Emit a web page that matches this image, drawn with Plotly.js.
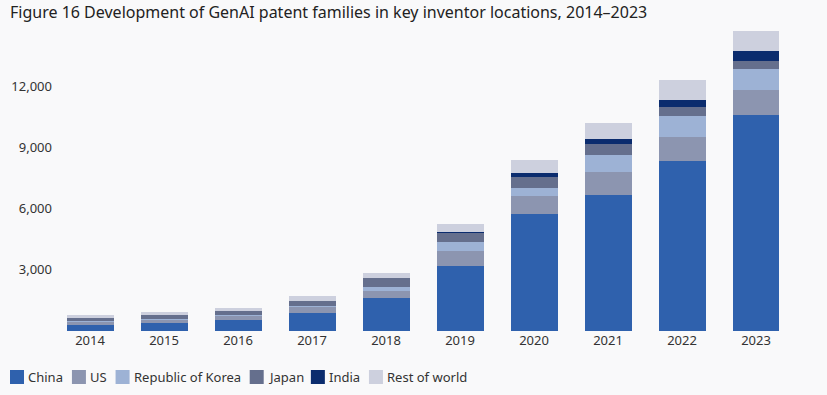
<!DOCTYPE html>
<html>
<head>
<meta charset="utf-8">
<script src="https://cdn.plot.ly/plotly-3.0.1.min.js"></script>
<style>
  html, body { margin: 0; padding: 0; background: #f9f9fa; }
  #chart { width: 827px; height: 395px; }
</style>
</head>
<body>
<div id="chart"></div>
<script>
const years = ['2014','2015','2016','2017','2018','2019','2020','2021','2022','2023'];
const china = [290, 390, 525, 885, 1620, 3200, 5740, 6680, 8350, 10610];
const us = [150, 130, 195, 280, 330, 740, 885, 1150, 1165, 1230];
const korea = [60, 70, 50, 60, 210, 410, 410, 820, 1050, 1035];
const japan = [140, 195, 195, 245, 430, 440, 540, 540, 430, 395];
const india = [5, 5, 5, 15, 30, 50, 165, 230, 360, 490];
const restOfWorld = [150, 150, 150, 245, 245, 440, 655, 820, 985, 985];
const seriesNames = ['China', 'US', 'Republic of Korea', 'Japan', 'India', 'Rest of world'];
const seriesColors = ['#2f61ad', '#8c95b0', '#9db2d5', '#656f8d', '#0b2c6e', '#cdd0de'];
const yTickVals = [3000, 6000, 9000, 12000];
const yTickText = ['3,000', '6,000', '9,000', '12,000'];

const seriesValues = [china, us, korea, japan, india, restOfWorld];
const traces = seriesValues.map((vals, i) => ({
  type: 'bar',
  x: years,
  y: vals,
  name: seriesNames[i],
  marker: { color: seriesColors[i], line: { width: 0 } },
  showlegend: false,
  hoverinfo: 'x+y+name'
}));

const W = 827, H = 395;
const M = { l: 53, r: 34, t: 26, b: 64 };
const plotW = W - M.l - M.r, plotH = H - M.t - M.b;
const bottomPx = H - M.b;

// custom legend (square + label), laid out left to right
const font = "13px 'Noto Sans'";
const ctx = document.createElement('canvas').getContext('2d');
ctx.font = font;
const shapes = [], annotations = [];
let px = 10;
const legendCy = 377, sq = 14;
const toPX = p => (p - M.l) / plotW;
const toPY = p => (bottomPx - p) / plotH;
seriesNames.forEach((name, i) => {
  shapes.push({
    type: 'rect', xref: 'paper', yref: 'paper',
    x0: toPX(px), x1: toPX(px + sq),
    y0: toPY(legendCy - sq / 2), y1: toPY(legendCy + sq / 2),
    fillcolor: seriesColors[i], line: { width: 0 }
  });
  const tx = px + sq + 3;
  annotations.push({
    xref: 'paper', yref: 'paper', x: toPX(tx - 1), y: toPY(legendCy),
    xanchor: 'left', yanchor: 'middle', showarrow: false,
    text: name, font: { family: 'Noto Sans', size: 13, color: '#333333' }
  });
  px = tx + ctx.measureText(name).width + 10;
});

const layout = {
  width: W, height: H,
  margin: M,
  paper_bgcolor: '#f9f9fa',
  plot_bgcolor: '#f9f9fa',
  barmode: 'stack',
  bargap: 0.365,
  font: { family: 'Noto Sans', size: 13, color: '#333333' },
  title: {
    text: 'Figure 16 Development of GenAI patent families in key inventor locations, 2014–2023',
    font: { family: 'Noto Sans', size: 16, color: '#222222' },
    xref: 'container', yref: 'container',
    x: 10 / W, xanchor: 'left',
    y: 1 - 12 / H, yanchor: 'middle'
  },
  xaxis: {
    type: 'category',
    showgrid: false, zeroline: false, showline: false,
    ticks: '',
    tickfont: { family: 'Noto Sans', size: 13, color: '#333333' }
  },
  yaxis: {
    range: [0, 14980],
    showgrid: false, zeroline: false, showline: false,
    ticks: '',
    tickvals: yTickVals, ticktext: yTickText,
    tickfont: { family: 'Noto Sans', size: 13, color: '#333333' }
  },
  showlegend: false,
  shapes: shapes,
  annotations: annotations
};

Plotly.newPlot('chart', traces, layout, { displayModeBar: false, staticPlot: true });
</script>
</body>
</html>
